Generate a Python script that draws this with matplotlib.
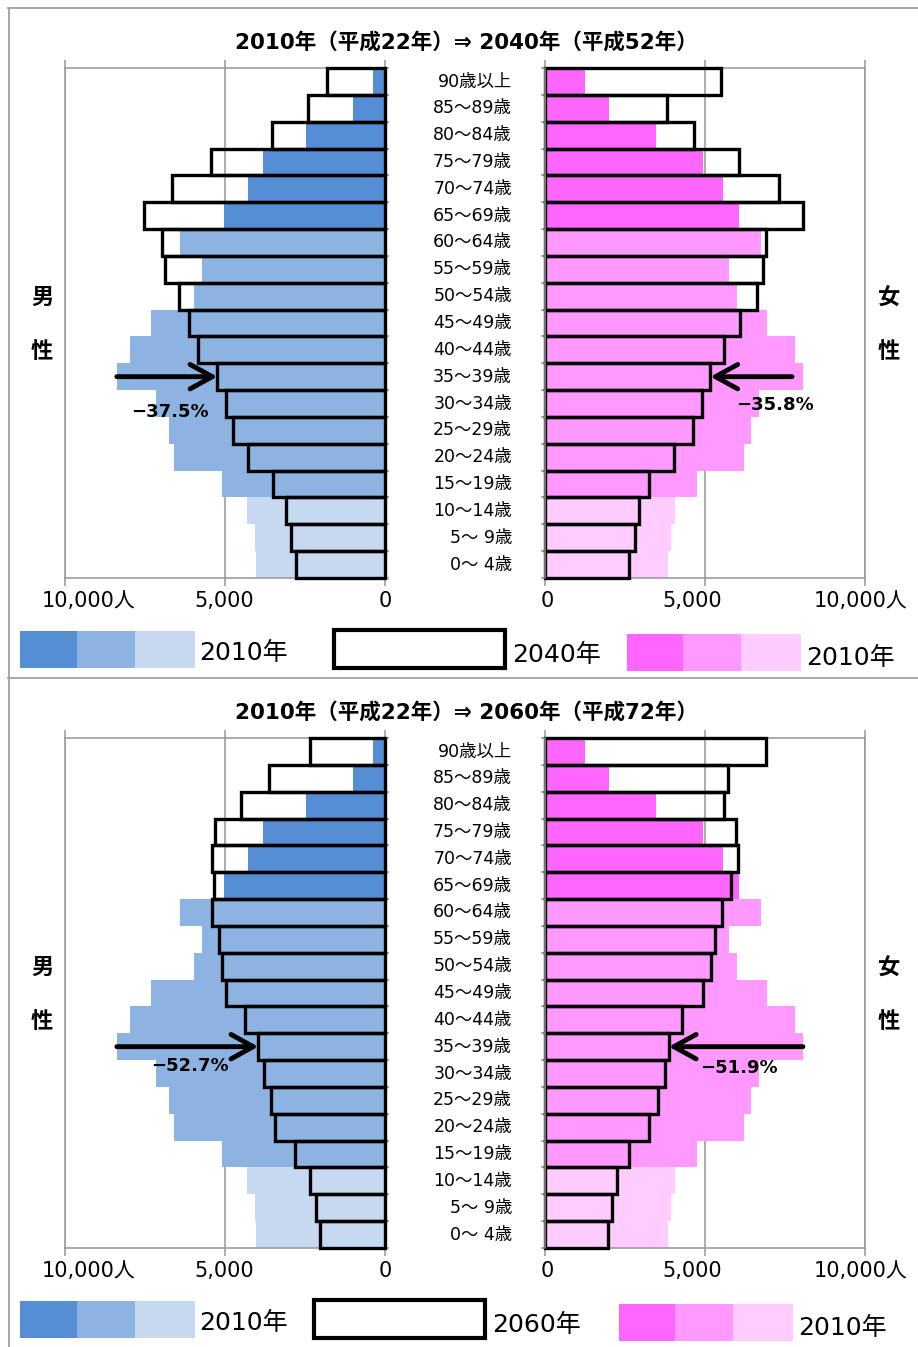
import matplotlib.pyplot as plt
import matplotlib.transforms as mtransforms
from matplotlib.patches import Rectangle
from matplotlib.lines import Line2D

plt.rcParams['font.family'] = ['DejaVu Sans', 'Noto Sans CJK JP']

# grupos de edad, de abajo (0-4) hacia arriba (90+)
edades = ['0～ 4歳', '5～ 9歳', '10～14歳', '15～19歳', '20～24歳', '25～29歳',
          '30～34歳', '35～39歳', '40～44歳', '45～49歳', '50～54歳', '55～59歳',
          '60～64歳', '65～69歳', '70～74歳', '75～79歳', '80～84歳', '85～89歳',
          '90歳以上']

hombres_2010 = [4020, 4060, 4300, 5080, 6580, 6760, 7160, 8380, 7970, 7320,
                5970, 5720, 6400, 5030, 4270, 3800, 2470, 1000, 380]
mujeres_2010 = [3840, 3930, 4060, 4740, 6220, 6440, 6700, 8050, 7810, 6950,
                6000, 5760, 6750, 6060, 5560, 4950, 3470, 2000, 1250]
hombres_2040 = [2790, 2940, 3100, 3510, 4270, 4740, 4970, 5240, 5830, 6130,
                6440, 6880, 6980, 7530, 6670, 5440, 3540, 2400, 1820]
mujeres_2040 = [2630, 2810, 2930, 3240, 4020, 4610, 4900, 5170, 5600, 6090,
                6610, 6820, 6900, 8070, 7310, 6050, 4650, 3800, 5500]
hombres_2060 = [2030, 2160, 2340, 2810, 3440, 3570, 3770, 3960, 4360, 4970,
                5100, 5180, 5410, 5330, 5420, 5310, 4510, 3630, 2340]
mujeres_2060 = [1960, 2080, 2260, 2630, 3260, 3530, 3740, 3870, 4290, 4930,
                5180, 5310, 5520, 5800, 6040, 5970, 5600, 5730, 6900]

azules = ['#C6D9F1'] * 3 + ['#8DB3E2'] * 10 + ['#558ED5'] * 6
rosas = ['#FFCCFF'] * 3 + ['#FF99FF'] * 10 + ['#FF66FF'] * 6
gris = '#969696'

W, H = 918, 1347
fig = plt.figure(figsize=(W / 100, H / 100), dpi=100)


def fx(x):
    return x / W


def fy(y):
    return 1 - y / H


def caja(x0, y0, x1, y1):
    return [fx(x0), fy(y1), (x1 - x0) / W, (y1 - y0) / H]


def rect(x0, y0, x1, y1, **kw):
    fig.add_artist(Rectangle((fx(x0), fy(y1)), (x1 - x0) / W, (y1 - y0) / H,
                             transform=fig.transFigure, **kw))


def eje(ax, invertir):
    ax.set_xlim((10000, 0) if invertir else (0, 10000))
    ax.set_ylim(-0.5, 18.5)
    ax.set_xticks([0, 5000, 10000])
    ax.xaxis.grid(True, color=gris, lw=1.1)
    ax.set_axisbelow(True)
    ax.tick_params(axis='x', direction='out', length=6, width=1.1, color=gris,
                   top=True, bottom=True, labelbottom=False, labeltop=False)
    ax.set_yticks([i - 0.5 for i in range(20)])
    ax.tick_params(axis='y', direction='out', length=3, width=1.1, color=gris,
                   left=not invertir, right=invertir,
                   labelleft=False, labelright=False)
    for s in ax.spines.values():
        s.set_color(gris)
        s.set_linewidth(1.1)


def piramide(dy, futuro_h, futuro_m, anio, heisei, colas, pos_pct, ley):
    y = list(range(len(edades)))
    ax_h = fig.add_axes(caja(65, 68 + dy, 385, 578 + dy))
    ax_m = fig.add_axes(caja(545, 68 + dy, 865, 578 + dy))
    eje(ax_h, True)
    eje(ax_m, False)
    ax_m.spines['left'].set_zorder(5)

    ax_h.barh(y, hombres_2010, height=1.0, color=azules, zorder=2)
    ax_h.barh(y, futuro_h, height=1.0, fill=False, edgecolor='black',
              linewidth=2.4, zorder=3, clip_on=False)
    ax_m.barh(y, mujeres_2010, height=1.0, color=rosas, zorder=2)
    ax_m.barh(y, futuro_m, height=1.0, fill=False, edgecolor='black',
              linewidth=2.4, zorder=3, clip_on=False)

    # etiquetas de edad en el centro
    trans = mtransforms.blended_transform_factory(fig.transFigure, ax_m.transData)
    for i, e in enumerate(edades):
        ax_m.text(fx(512), i, e, transform=trans, ha='right', va='center',
                  fontsize=12.5)

    # flechas en 35-39 y porcentaje de variacion
    k = 7
    for ax, base, fut, cola, (px, py) in [(ax_h, hombres_2010, futuro_h, colas[0], pos_pct[0]),
                                          (ax_m, mujeres_2010, futuro_m, colas[1], pos_pct[1])]:
        ax.annotate('', xy=(fut[k], k), xytext=(cola, k),
                    arrowprops=dict(arrowstyle='->,head_length=0.4,head_width=0.22',
                                    lw=3.5, color='black', mutation_scale=40,
                                    shrinkA=0, shrinkB=0), zorder=6)
        pct = (1 - fut[k] / base[k]) * 100
        ax.text(px, py, f'−{pct:.1f}%', ha='center', va='center',
                fontsize=13, fontweight='bold', zorder=6)

    fig.text(fx(466), fy(42 + dy), f'2010年（平成22年）⇒ {anio}年（平成{heisei}年）',
             ha='center', va='center', fontsize=15.5, fontweight='bold')

    for x, t in [(89, '10,000人'), (224, '5,000'), (385, '0'),
                 (547, '0'), (692, '5,000'), (861, '10,000人')]:
        fig.text(fx(x), fy(601 + dy), t, ha='center', va='center', fontsize=15)

    for x, t in [(42, '男'), (889, '女')]:
        fig.text(fx(x), fy(298 + dy), t, ha='center', va='center',
                 fontsize=16, fontweight='bold')
        fig.text(fx(x), fy(352 + dy), '性', ha='center', va='center',
                 fontsize=16, fontweight='bold')

    # leyenda
    ly = 633 + dy - 2
    for j, c in enumerate(['#558ED5', '#8DB3E2', '#C6D9F1']):
        rect([20, 77, 135][j], ly, [77, 135, 195][j], ly + 37, facecolor=c, edgecolor='none')
    fig.text(fx(199), fy(ly + 22), '2010年', ha='left', va='center', fontsize=18)
    bx0, bx1 = ley[0]
    rect(bx0 + 2, ly - 1, bx1 - 2, ly + 37, facecolor='white', edgecolor='black', linewidth=3)
    fig.text(fx(bx1 + 5), fy(ly + 24), f'{anio}年', ha='left', va='center', fontsize=18)
    p0 = ley[1]
    for j, c in enumerate(['#FF66FF', '#FF99FF', '#FFCCFF']):
        rect(p0 + [0, 56, 114][j], ly + 3, p0 + [56, 114, 174][j], ly + 40,
             facecolor=c, edgecolor='none')
    fig.text(fx(p0 + 179), fy(ly + 27), '2010年', ha='left', va='center', fontsize=18)


piramide(0, hombres_2040, mujeres_2040, 2040, 52, (8380, 7720),
         [(6720, 5.7), (7190, 5.95)], ((332, 507), 627))
piramide(670, hombres_2060, mujeres_2060, 2060, 72, (8380, 8060),
         [(6090, 6.28), (6060, 6.21)], ((312, 487), 619))

# marcos de los dos paneles
for xs, ys in [([8.5, 8.5], [8, H]), ([8, W], [8, 8]), ([8, W], [678, 678])]:
    fig.add_artist(Line2D([fx(v) for v in xs], [fy(v) for v in ys],
                          transform=fig.transFigure, color='#A0A0A0', lw=1.3))

fig.savefig('out.png', dpi=100)
